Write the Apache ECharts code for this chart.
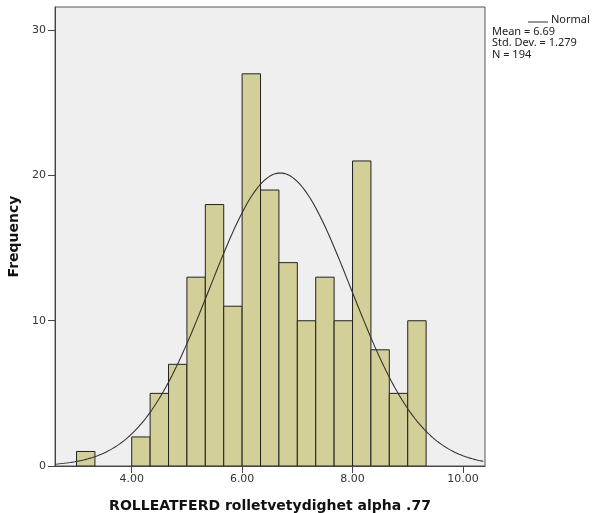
<!DOCTYPE html>
<html><head><meta charset="utf-8">
<script src="https://cdn.jsdelivr.net/npm/echarts@6/dist/echarts.min.js"></script>
<style>html,body{margin:0;padding:0;background:#fff}#c{width:594px;height:513px}</style>
</head><body><div id="c"></div>
<script>
// Histogram data
const binStart = 3.0;
const binWidth = 1/3;
const counts = [1,0,0,2,5,7,13,18,11,27,19,14,10,13,10,21,8,5,10];
const xTicks = [4,6,8,10];
const yTicks = [0,10,20,30];
const meanVal = 6.69;
const sdVal = 1.279;
const nVal = 194;
const xTitle = 'ROLLEATFERD rolletvetydighet alpha .77';
const yTitle = 'Frequency';
const xMin = 2.61, xMax = 10.40, yMax = 31.6;

const bins = counts.map((c,i)=>[binStart+i*binWidth, binStart+(i+1)*binWidth, c]).filter(d=>d[2]>0);
const curve = [];
for (let x = xMin; x <= xMax + 1e-9; x += 0.04) {
  const z = (x-meanVal)/sdVal;
  curve.push([x, nVal*binWidth*Math.exp(-0.5*z*z)/(sdVal*Math.sqrt(2*Math.PI))]);
}
const chart = echarts.init(document.getElementById('c'));
const font = '"DejaVu Sans", sans-serif';
const lfont = '"Noto Sans", sans-serif';
chart.setOption({
  animation:false,
  grid:{left:55,top:7,right:109,bottom:47,outerBoundsMode:'none',containLabel:false,show:true,backgroundColor:'#efefef',borderColor:'#555',borderWidth:1},
  xAxis:{type:'value',min:xMin,max:xMax,
    name:xTitle,nameLocation:'middle',nameGap:33,
    nameTextStyle:{fontFamily:font,fontWeight:'bold',fontSize:14,color:'#111'},
    axisLine:{show:true,onZero:false,lineStyle:{color:'#444',width:1}},
    axisTick:{show:true,length:7,customValues:xTicks,lineStyle:{color:'#444'}},
    axisLabel:{customValues:xTicks,formatter:v=>v.toFixed(2),fontFamily:font,fontSize:11,color:'#333',margin:8},
    splitLine:{show:false}},
  yAxis:{type:'value',min:0,max:yMax,
    name:yTitle,nameLocation:'middle',nameGap:31,
    nameTextStyle:{fontFamily:font,fontWeight:'bold',fontSize:14,color:'#111'},
    axisLine:{show:true,lineStyle:{color:'#444',width:1}},
    axisTick:{show:true,length:7,customValues:yTicks,lineStyle:{color:'#444'}},
    axisLabel:{customValues:yTicks,fontFamily:font,fontSize:11,color:'#333',margin:9},
    splitLine:{show:false}},
  legend:{show:false},
  graphic:[
    {type:'line',shape:{x1:528,y1:22,x2:548,y2:22},style:{stroke:'#333',lineWidth:1}},
    {type:'text',left:551,top:14,style:{text:'Normal',font:'11px '+lfont,fill:'#222'}},
    {type:'text',left:492,top:26,style:{text:'Mean = '+meanVal.toFixed(2)+'\nStd. Dev. = '+sdVal.toFixed(3)+'\nN = '+nVal,font:'11px '+lfont,fill:'#222',lineHeight:11.5}}
  ],
  series:[
    {type:'custom',name:'hist',data:bins,clip:true,
     renderItem:(params,api)=>{
       const p0=api.coord([api.value(0),api.value(2)]);
       const p1=api.coord([api.value(1),0]);
       return {type:'rect',shape:{x:p0[0],y:p0[1],width:p1[0]-p0[0],height:p1[1]-p0[1]},
         style:{fill:'#d3cf98',stroke:'#222',lineWidth:1}};
     }},
    {type:'line',name:'Normal',data:curve,showSymbol:false,smooth:false,clip:true,
     lineStyle:{color:'#333',width:1.1},z:5}
  ]
});
</script></body></html>
